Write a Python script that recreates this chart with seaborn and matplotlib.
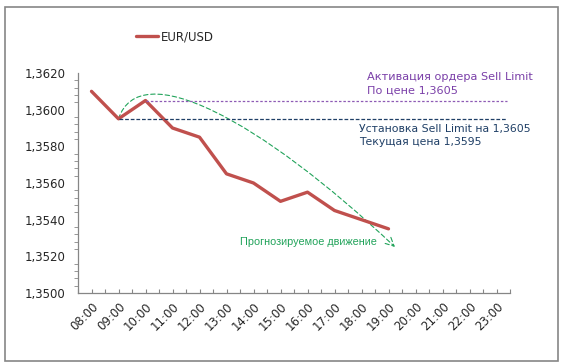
import numpy as np
import pandas as pd
import matplotlib
matplotlib.use("Agg")
import matplotlib.pyplot as plt
import seaborn as sns
from matplotlib.path import Path
from matplotlib.patches import FancyArrowPatch, Rectangle
from matplotlib.ticker import FixedLocator, MultipleLocator, FuncFormatter

hours = ["08:00", "09:00", "10:00", "11:00", "12:00", "13:00", "14:00", "15:00",
         "16:00", "17:00", "18:00", "19:00", "20:00", "21:00", "22:00", "23:00"]
price_hours = hours[:12]
eurusd = [1.3610, 1.3595, 1.3605, 1.3590, 1.3585, 1.3565, 1.3560, 1.3550,
          1.3555, 1.3545, 1.3540, 1.3535]
sell_limit = 1.3605
current_price = 1.3595
# forecast curve (cubic Bezier control points: category index, price)
forecast_x = [1.0, 1.78, 6.24, 11.24]
forecast_y = [1.3595, 1.36296, 1.35945, 1.35251]

sns.set_theme(style="white")
plt.rcParams['font.family'] = ['DejaVu Sans']

W, H = 564, 364
fig = plt.figure(figsize=(W / 100, H / 100), dpi=100)
ax = fig.add_axes([78 / W, 1 - 293 / H, (510 - 78) / W, (293 - 73) / H])

df = pd.DataFrame({"hour": price_hours, "EUR/USD": eurusd})
sns.lineplot(data=df, x="hour", y="EUR/USD", ax=ax, color="#C0504D", lw=2.4,
             label="EUR/USD", sort=False)

ax.hlines(sell_limit, 2, 15.39, colors="#8E5BB5", linestyles=(0, (2, 1.5)), lw=0.9)
ax.hlines(current_price, 1, 15.39, colors="#1F3F66", linestyles=(0, (3, 1.5)), lw=0.9)

path = Path(list(zip(forecast_x, forecast_y)),
            [Path.MOVETO, Path.CURVE4, Path.CURVE4, Path.CURVE4])
arrow = FancyArrowPatch(path=path, arrowstyle="->,head_length=6,head_width=3",
                        color="#21A35A", lw=0.8, linestyle=(0, (4, 2.5)))
ax.add_patch(arrow)

ax.text(10.2, 1.36178, "Активация ордера Sell Limit", color="#7A3FA8", fontsize=8.1,
        va="center", ha="left")
ax.text(10.2, 1.36107, "По цене 1,3605", color="#7A3FA8", fontsize=8.1,
        va="center", ha="left")
ax.text(9.9, 1.35895, "Установка Sell Limit на 1,3605", color="#1F3F66", fontsize=7.8,
        va="center", ha="left")
ax.text(9.9, 1.35824, "Текущая цена 1,3595", color="#1F3F66", fontsize=7.8,
        va="center", ha="left")
ax.text(5.5, 1.35278, "Прогнозируемое движение", color="#21A35A", fontsize=7.8,
        va="center", ha="left", family=["Liberation Sans", "DejaVu Sans"])

ax.set_xlim(-0.5, 15.5)
ax.set_ylim(1.3500, 1.3620)
ax.set_xticks(range(len(hours)))
ax.set_xticklabels(hours, rotation=45, ha="right", rotation_mode="anchor", fontsize=8.5)
ax.xaxis.set_minor_locator(FixedLocator(np.arange(-0.5, 16, 1.0)))
ax.set_yticks(np.arange(1.3500, 1.36201, 0.002))
ax.yaxis.set_major_formatter(FuncFormatter(lambda v, p: f"{v:.4f}".replace(".", ",")))
ax.yaxis.set_minor_locator(MultipleLocator(0.0004))
ax.tick_params(axis="y", which="major", direction="out", length=5, width=0.8,
               color="#868686", labelsize=8.5, pad=4)
ax.tick_params(axis="y", which="minor", direction="out", length=3, width=0.6,
               color="#868686", left=True)
ax.tick_params(axis="x", which="both", direction="in", length=3, width=0.8,
               color="#868686", bottom=True, pad=5)
ax.set_xlabel("")
ax.set_ylabel("")
for s in ["top", "right"]:
    ax.spines[s].set_visible(False)
for s in ["left", "bottom"]:
    ax.spines[s].set_color("#868686")
    ax.spines[s].set_linewidth(0.9)

leg = ax.legend(loc="center left", bbox_to_anchor=(136 / W, 1 - 37 / H),
                bbox_transform=fig.transFigure, frameon=False, fontsize=8.5,
                handlelength=1.9, handletextpad=0.2, borderaxespad=0, borderpad=0)

fig.patches.append(Rectangle((5 / W, 3 / H), 553 / W, 354 / H, transform=fig.transFigure,
                             fill=False, edgecolor="#868686", lw=1.2))

fig.savefig("out.png", dpi=100, facecolor="white")
